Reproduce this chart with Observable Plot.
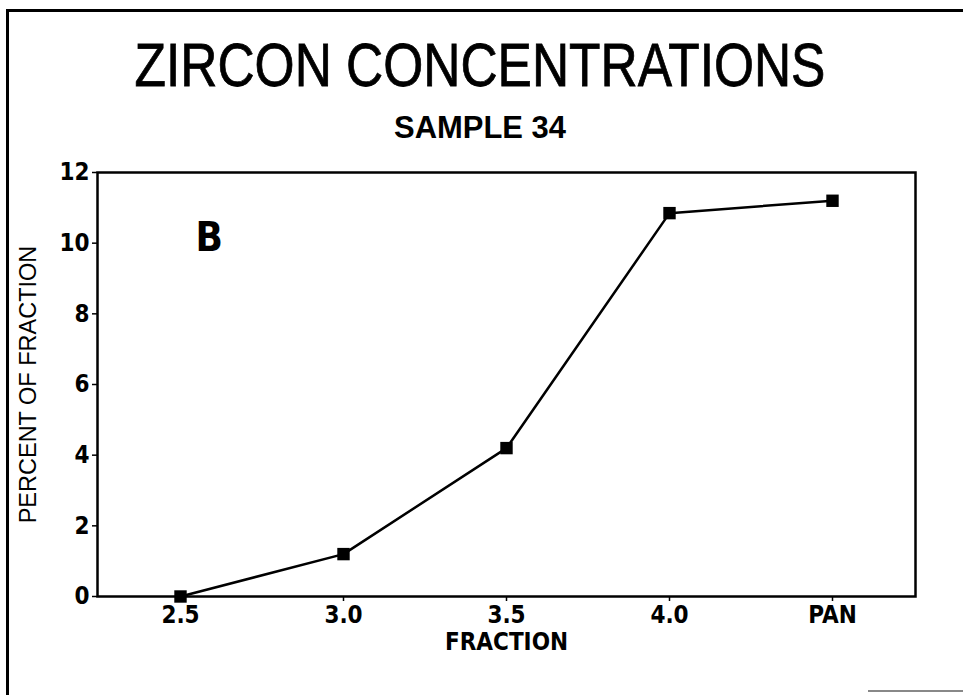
<!DOCTYPE html>
<html>
<head>
<meta charset="utf-8">
<script src="https://cdn.jsdelivr.net/npm/d3@7"></script>
<script src="https://cdn.jsdelivr.net/npm/@observablehq/plot@0.6"></script>
<style>
  html, body { margin: 0; padding: 0; background: #fff; width: 963px; height: 695px; overflow: hidden; }
  #border { position: absolute; left: 6px; top: 9px; width: 970px; height: 700px; border-left: 3px solid #000; border-top: 3px solid #000; }
  #edge { position: absolute; left: 868px; top: 690px; width: 95px; height: 2px; background: #888; }
  #title { position: absolute; left: 0; top: 34px; width: 960px; text-align: center; font-family: "Liberation Sans", Arial, sans-serif; font-size: 62px; line-height: 62px; color: #000; transform: scaleX(0.83); transform-origin: 480px 0; white-space: nowrap; -webkit-text-stroke: 0.8px #000; }
  #subtitle { position: absolute; left: 0; top: 111px; width: 960px; text-align: center; font-family: "Liberation Sans", Arial, sans-serif; font-weight: bold; font-size: 32px; line-height: 32px; color: #000; transform: scaleX(0.967); transform-origin: 480px 0; white-space: nowrap; }
  #chart { position: absolute; left: 0; top: 150px; }
  #chart svg text { fill: #000; }
</style>
</head>
<body>
<div id="border"></div>
<div id="edge"></div>
<div id="title">ZIRCON CONCENTRATIONS</div>
<div id="subtitle">SAMPLE 34</div>
<div id="chart"></div>
<script>
const categories = ["2.5", "3.0", "3.5", "4.0", "PAN"];
const percents = [0, 1.2, 4.2, 10.85, 11.2];
const yTicks = [0, 2, 4, 6, 8, 10, 12];
const panelLabel = "B";

const data = categories.map((c, i) => ({fraction: c, percent: percents[i]}));
const narrow = "'Liberation Sans Narrow', 'DejaVu Sans Condensed', 'Liberation Sans', Arial, sans-serif";

const chart = Plot.plot({
  width: 963,
  height: 545,
  marginLeft: 97,
  marginRight: 48,
  marginTop: 22,
  marginBottom: 99,
  style: {fontFamily: narrow, fontWeight: "bold", fontSize: "22px", color: "#000", background: "transparent"},
  x: {type: "point", domain: categories, padding: 0.5, label: null},
  y: {domain: [0, 12], ticks: yTicks, label: null},
  marks: [
    Plot.frame({stroke: "#000", strokeWidth: 2.5}),
    Plot.axisX({ticks: categories, tickSize: 5, tickPadding: 4, stroke: "#000", strokeWidth: 1.5, fontSize: 24, fontWeight: "bold", label: null}),
    Plot.axisY({ticks: yTicks, tickSize: 5, tickPadding: 3, stroke: "#000", strokeWidth: 1.5, fontSize: 24, fontWeight: "bold", label: null}),
    Plot.text(["FRACTION"], {frameAnchor: "bottom", lineAnchor: "top", dy: 36, text: d => d, fontSize: 24, fontWeight: "bold", fill: "#000"}),
    Plot.text(["PERCENT OF FRACTION"], {frameAnchor: "left", textAnchor: "middle", dx: -69, rotate: -90, text: d => d, fontFamily: "'Liberation Sans', Arial, sans-serif", fontSize: 23.5, fontWeight: "normal", fill: "#000"}),
    Plot.text([panelLabel], {frameAnchor: "top-left", textAnchor: "start", lineAnchor: "top", dx: 98, dy: 50, text: d => d, fontSize: 40, fontWeight: "bold", fill: "#000"}),
    Plot.line(data, {x: "fraction", y: "percent", stroke: "#000", strokeWidth: 2.5}),
    Plot.dot(data, {x: "fraction", y: "percent", symbol: "square", r: 7, fill: "#000", stroke: "none"})
  ]
});
document.getElementById("chart").appendChild(chart);
</script>
</body>
</html>
